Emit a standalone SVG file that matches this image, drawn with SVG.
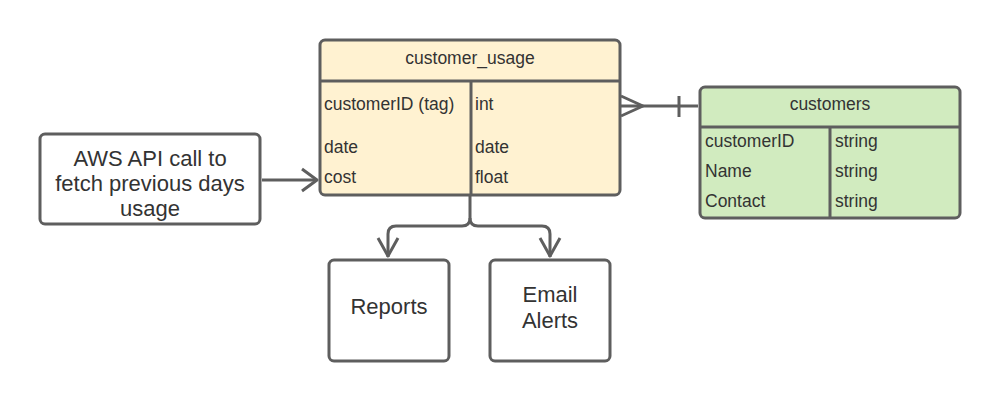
<svg xmlns="http://www.w3.org/2000/svg" width="1000" height="401" viewBox="0 0 1000 401">
<style>
.box{stroke:#5e5e5e;stroke-width:3}
.ln{stroke:#5e5e5e;stroke-width:3;fill:none}
.c{stroke:#5e5e5e;stroke-width:3;fill:none;stroke-linejoin:round}
text{font-family:"Liberation Sans",Arial,sans-serif;fill:#333333}
.t15{font-size:17.5px}
.t19{font-size:22px}
</style>
<rect width="1000" height="401" fill="#ffffff"/>
<g id="connectors">
<path class="c" d="M262,180 H317"/>
<path class="c" d="M302,169 L317,180 L302,191"/>
<path class="c" d="M620,106 H698"/>
<path class="c" d="M621,96 L643,106 L621,116"/>
<path class="ln" d="M679,96 V117"/>
<path class="c" d="M470,196 V218 Q470,226 462,226 H396 Q388,226 388,234 V257"/>
<path class="c" d="M470,218 Q470,226 478,226 H542 Q550,226 550,234 V257"/>
<path class="c" d="M378,238 L388,256 L398,238"/>
<path class="c" d="M540,238 L550,256 L560,238"/>
</g>
<g id="customer_usage">
<rect class="box" x="320" y="40" width="300" height="155" rx="5" fill="#fff2d1"/>
<path class="ln" d="M320,81 H620 M471,81 V195"/>
<text class="t15" x="470" y="64" text-anchor="middle">customer_usage</text>
<text class="t15" x="324" y="110">customerID (tag)</text>
<text class="t15" x="475" y="110">int</text>
<text class="t15" x="324" y="152.5">date</text>
<text class="t15" x="475" y="152.5">date</text>
<text class="t15" x="324" y="182.5">cost</text>
<text class="t15" x="475" y="182.5">float</text>
</g>
<g id="customers">
<rect class="box" x="700" y="87" width="260" height="131" rx="5" fill="#d1ebbf"/>
<path class="ln" d="M700,127 H960 M830,127 V218"/>
<text class="t15" x="830" y="110" text-anchor="middle">customers</text>
<text class="t15" x="705" y="146.5">customerID</text>
<text class="t15" x="835" y="146.5">string</text>
<text class="t15" x="705" y="176.5">Name</text>
<text class="t15" x="835" y="176.5">string</text>
<text class="t15" x="705" y="206.5">Contact</text>
<text class="t15" x="835" y="206.5">string</text>
</g>
<g id="aws">
<rect class="box" x="40" y="134" width="220" height="90" rx="5" fill="#ffffff"/>
<text class="t19" x="150" y="165.5" text-anchor="middle">AWS API call to</text>
<text class="t19" x="150" y="190.5" text-anchor="middle">fetch previous days</text>
<text class="t19" x="150" y="215.5" text-anchor="middle">usage</text>
</g>
<g id="reports">
<rect class="box" x="329" y="260" width="120" height="101" rx="5" fill="#ffffff"/>
<text class="t19" x="389" y="314" text-anchor="middle">Reports</text>
</g>
<g id="email">
<rect class="box" x="490" y="260" width="120" height="101" rx="5" fill="#ffffff"/>
<text class="t19" x="550" y="302" text-anchor="middle">Email</text>
<text class="t19" x="550" y="327.5" text-anchor="middle">Alerts</text>
</g>
</svg>
